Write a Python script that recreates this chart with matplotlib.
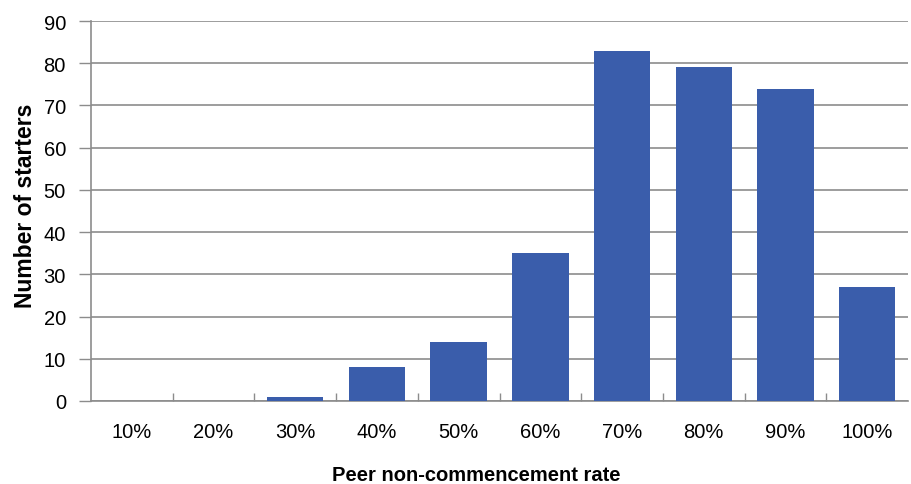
import matplotlib
matplotlib.use("Agg")
import matplotlib.pyplot as plt
import numpy as np

categories = ["10%", "20%", "30%", "40%", "50%", "60%", "70%", "80%", "90%", "100%"]
values = [0, 0, 1, 8, 14, 35, 83, 79, 74, 27]

plt.rcParams['font.family'] = ['Liberation Sans', 'DejaVu Sans']

fig = plt.figure(figsize=(9.12, 4.85), dpi=100)
ax = fig.add_axes([91/912, 83/485, (908-91)/912, (402-22)/485])

x = np.arange(len(categories))
ax.bar(x, values, width=0.69, color='#3A5DAB', zorder=3)

ax.set_xlim(-0.5, len(categories) - 0.5)
ax.set_ylim(0, 90)
ax.set_yticks(np.arange(0, 91, 10))
ax.yaxis.grid(True, color='#8C8C8C', linewidth=1.2, zorder=0)
ax.set_axisbelow(True)

ax.set_xticks(x)
ax.set_xticklabels(categories)
ax.set_xticks(np.arange(0.5, len(categories) - 0.5, 1), minor=True)
ax.tick_params(axis='x', which='major', length=0, pad=15, labelsize=14.5)
ax.tick_params(axis='x', which='minor', direction='in', length=6, color='#8C8C8C', width=1)
ax.tick_params(axis='y', which='major', direction='out', length=9, color='#8C8C8C', width=1, labelsize=14.5, pad=9)

for s in ['top', 'right']:
    ax.spines[s].set_visible(False)
for s in ['left', 'bottom']:
    ax.spines[s].set_color('#8C8C8C')
    ax.spines[s].set_linewidth(1.2)

ax.set_ylabel('Number of starters', fontsize=16.5, fontweight='bold')
ax.yaxis.set_label_coords(-0.066, 0.515)
ax.set_xlabel('Peer non-commencement rate', fontsize=14.5, fontweight='bold')
ax.xaxis.set_label_coords(0.472, -0.168)

fig.savefig('out.png', dpi=100)
